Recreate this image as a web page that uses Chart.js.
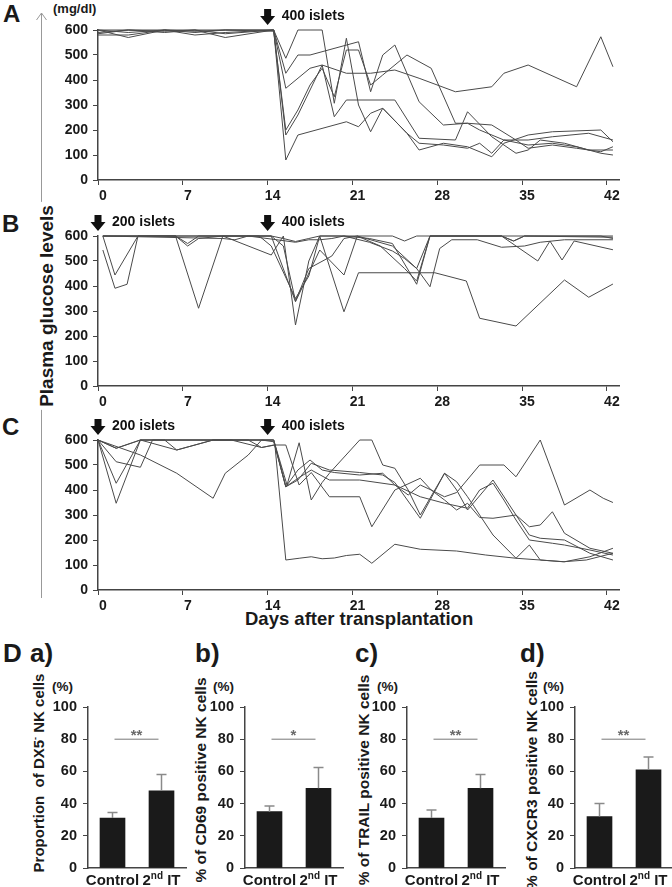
<!DOCTYPE html>
<html>
<head>
<meta charset="utf-8">
<script src="https://cdn.jsdelivr.net/npm/chart.js@4.4.0/dist/chart.umd.min.js"></script>
<style>
body{margin:0;background:#fff;width:672px;height:887px;position:relative;overflow:hidden;font-family:"Liberation Sans",Arial,sans-serif;font-weight:bold;color:#1a1a1a}
canvas{position:absolute}
.lbl{position:absolute;white-space:nowrap;line-height:1}
.rot{position:absolute;white-space:nowrap;line-height:1;transform:translate(-50%,-50%) rotate(-90deg)}
</style>
</head>
<body>
<!-- big glucose axis label with its arrow -->
<svg style="position:absolute;left:0;top:0" width="60" height="620">
  <line x1="41.5" y1="13" x2="41.5" y2="598" stroke="#999" stroke-width="1"/>
  <polyline points="36.5,20 41.5,13 46.5,20" fill="none" stroke="#999" stroke-width="1"/>
</svg>
<div class="rot" style="left:46px;top:306px;font-size:19px;background:#fff;padding:0 3px">Plasma glucose levels</div>
<div class="lbl" style="left:3px;top:2px;font-size:24px">A</div>
<div class="lbl" style="left:2px;top:212px;font-size:24px">B</div>
<div class="lbl" style="left:2px;top:415px;font-size:24px">C</div>
<div class="lbl" style="left:53px;top:2px;font-size:13px">(mg/dl)</div>
<div class="lbl" style="left:245px;top:610px;font-size:18.5px">Days after transplantation</div>

<div class="lbl" style="left:3px;top:640px;font-size:26px">D</div>
<div class="lbl" style="left:30px;top:640px;font-size:26px">a)</div>
<div class="lbl" style="left:195px;top:640px;font-size:26px">b)</div>
<div class="lbl" style="left:355px;top:640px;font-size:26px">c)</div>
<div class="lbl" style="left:520px;top:640px;font-size:26px">d)</div>
<div class="lbl" style="left:52px;top:680px;font-size:13.5px">(%)</div>
<div class="lbl" style="left:213px;top:680px;font-size:13.5px">(%)</div>
<div class="lbl" style="left:377px;top:680px;font-size:13.5px">(%)</div>
<div class="lbl" style="left:543px;top:680px;font-size:13.5px">(%)</div>
<div class="rot" style="left:38px;top:773px;font-size:15px">Proportion&nbsp; of DX5<sup style="font-size:9px">-</sup> NK cells</div>
<div class="rot" style="left:201px;top:780px;font-size:15.5px">% of CD69 positive NK cells</div>
<div class="rot" style="left:364px;top:780px;font-size:15.5px">% of TRAIL positive NK cells</div>
<div class="rot" style="left:532px;top:780px;font-size:15.5px">% of CXCR3 positive NK cells</div>

<canvas id="chartA" width="590" height="208" style="left:40px;top:0px"></canvas>
<canvas id="chartB" width="590" height="208" style="left:40px;top:206px"></canvas>
<canvas id="chartC" width="590" height="208" style="left:40px;top:410px"></canvas>
<canvas id="bar1" width="162" height="197" style="left:30px;top:690px"></canvas>
<canvas id="bar2" width="162" height="197" style="left:187px;top:690px"></canvas>
<canvas id="bar3" width="162" height="197" style="left:349px;top:690px"></canvas>
<canvas id="bar4" width="162" height="197" style="left:517px;top:690px"></canvas>

<script>
// axis ticks
const dayTicks = [0, 7, 14, 21, 28, 35, 42];
const glucoseTicks = [0, 100, 200, 300, 400, 500, 600];
const percentTicks = [0, 20, 40, 60, 80, 100];

// A - one transplant of 400 islets, [day, mg/dl]
const a1 = [[0,600],[2.5,570],[5.5,600],[8,590],[10.5,600],[14.5,600],[15.5,487],[16.5,600],[17.5,600],[18.5,600],[19.5,307],[20.5,567],[21.5,300],[22.5,193],[23.5,287],[25.5,187],[26.5,120],[28.5,147],[30.5,133],[32.5,93],[33.5,147],[35.5,180],[37.5,193],[41.5,200],[42.5,153]];
const a2 = [[0,580],[2.5,580],[5.5,600],[8,580],[10.5,590],[14.5,600],[15.5,427],[16.5,500],[17.5,500],[21.5,553],[22.5,353],[23.5,500],[24.5,540],[26.5,313],[28.5,220],[30.5,227],[32.5,220],[34.5,160],[35.5,127],[37.5,140],[39.5,127],[41.5,113],[42.5,133]];
const a3 = [[0,590],[2.5,600],[5.5,595],[8,600],[10.5,570],[14.5,600],[15.5,367],[17.5,447],[18.5,460],[20.5,427],[22.5,427],[24.5,440],[26.5,407],[29.5,353],[32.5,373],[33.5,427],[35.5,460],[39.5,373],[41.5,573],[42.5,453]];
const a4 = [[0,600],[2.5,590],[5.5,600],[8,595],[10.5,600],[14.5,595],[15.5,200],[16.5,280],[17.5,380],[18.5,447],[19.5,333],[20.5,520],[21.5,520],[22.5,380],[23.5,420],[25.5,500],[27.5,447],[29.5,227],[30.5,227],[31.5,200],[33.5,160],[35.5,160],[37.5,173],[40.5,187],[42.5,160]];
const a5 = [[0,585],[2.5,600],[5.5,590],[8,600],[10.5,585],[14.5,600],[15.5,180],[16.5,260],[18.5,460],[19.5,253],[20.5,320],[24.5,320],[26.5,167],[29.5,160],[30.5,273],[32.5,173],[34.5,107],[35.5,120],[36.5,160],[38.5,147],[40.5,120],[42.5,120]];
const a6 = [[0,600],[2.5,600],[5.5,600],[8,600],[10.5,600],[14.5,600],[15.5,80],[16.5,180],[20.5,233],[21.5,213],[22.5,267],[23.5,287],[25.5,187],[26.5,147],[28.5,140],[30.5,127],[31.5,147],[32.5,107],[33.5,160],[35.5,140],[37.5,147],[39.5,133],[41.5,107],[42.5,100]];

// B - 200 islets then 400 islets
const b1 = [[0.4,544],[1.4,391],[2.4,407],[3.3,600],[6.4,600],[7.4,570],[8.3,600],[14.3,600],[16.3,337],[18.3,544],[20.3,444],[21.4,600],[24.3,560],[26.3,470],[27.4,600],[42.5,600]];
const b2 = [[0.4,600],[1.4,444],[3.3,600],[6.4,600],[7.4,560],[8.3,590],[10.3,600],[14.3,524],[15.3,600],[16.3,244],[17.4,500],[18.3,600],[20.3,297],[21.5,453],[27.8,453],[30.4,420],[31.5,271],[34.5,240],[38.5,424],[40.5,355],[42.5,408]];
const b3 = [[0.4,600],[6.4,600],[8.3,311],[10.3,600],[13.3,600],[14.3,560],[16.3,350],[17.4,440],[18.3,600],[20.3,600],[22.4,590],[24.3,570],[26.3,407],[27.4,600],[33.3,600],[34.3,580],[35.2,600],[42.5,595]];
const b4 = [[0.4,600],[10.3,590],[11.3,585],[12.4,600],[16.3,575],[17.4,585],[18.3,585],[19.3,590],[20.3,600],[22.4,575],[24.3,540],[25.3,510],[26.3,470],[27.4,397],[28.2,550],[29.2,585],[31.3,585],[33.3,555],[35.2,560],[36.5,575],[38.5,585],[42.5,585]];
const b5 = [[0.4,600],[14.3,600],[15.3,560],[16.3,340],[17.4,470],[19.3,520],[20.3,590],[21.4,600],[23.3,560],[25.3,470],[26.3,420],[27.4,600],[33.3,600],[36.3,500],[37.3,580],[38.3,504],[39.3,580],[42.5,545]];
const b6 = [[0.4,600],[14.3,600],[15.3,590],[16.3,578],[17.4,590],[18.3,600],[24.3,600],[25.3,580],[26.3,600],[33.3,600],[34.3,580],[35.2,600],[41.5,600],[42.5,590]];

// C - 200 islets then 400 islets
const c1 = [[0,600],[1.5,567],[3.5,600],[5.5,600],[6.5,560],[9.5,600],[11,600],[13.5,570],[14.6,580],[15.5,120],[16.6,127],[17.6,133],[18.5,125],[19.5,128],[20.5,138],[21.6,143],[22.6,107],[24.5,183],[26.6,163],[29.6,156],[32,140],[34.5,127],[36.5,120],[38.4,113],[40.3,120],[42.5,147]];
const c2 = [[0,600],[1.5,427],[3.5,600],[9.5,600],[14.5,600],[15.5,413],[16.5,480],[17.5,520],[18.5,480],[19.5,470],[21.6,460],[23.5,467],[24.5,420],[25.6,380],[26.6,420],[27.5,400],[28.6,373],[29.6,390],[31.5,500],[33.5,500],[34.5,453],[36.5,600],[38.5,340],[40.6,400],[41.7,367],[42.5,350]];
const c3 = [[0,600],[1.5,347],[3.5,600],[6.5,600],[9.5,600],[14.5,600],[15.6,420],[16.6,589],[17.6,360],[18.5,430],[19.1,467],[21.6,600],[22.6,600],[23.5,500],[24.5,487],[25.6,400],[26.6,300],[28.6,467],[29.6,433],[30.5,373],[31.5,300],[32.6,220],[34.5,127],[35.6,180],[36.5,120],[38.5,113],[40.6,133],[42.5,167]];
const c4 = [[0,600],[1.5,513],[3.5,491],[4.5,600],[9.5,600],[14.5,600],[15.5,413],[16.5,440],[17.6,507],[19.1,480],[21.6,470],[23.5,460],[24.5,430],[26.6,287],[28.6,467],[29.6,400],[30.5,320],[32.6,440],[34.5,300],[35.6,220],[36.5,207],[38.5,200],[40.6,147],[42.5,120]];
const c5 = [[0,600],[1.5,567],[3.5,600],[6.5,560],[9.5,600],[12.4,600],[13.5,570],[14.5,580],[15.5,580],[16.6,420],[17.6,470],[19.1,373],[21.6,373],[22.6,253],[24.5,400],[26.6,447],[27.5,400],[28.6,360],[29.6,320],[30.5,347],[31.5,290],[32.6,287],[34.5,300],[35.6,253],[36.5,260],[37.5,313],[38.5,227],[40.6,167],[42.5,147]];
const c6 = [[0,600],[3.5,540],[6.5,467],[9.5,367],[10.5,467],[12.4,540],[13.5,600],[14.5,593],[15.5,413],[16.6,450],[17.6,480],[19.1,440],[21.6,440],[24.5,420],[26.6,373],[28.6,347],[30.5,327],[31.5,400],[32.6,427],[33.5,360],[34.5,280],[35.6,200],[37.5,187],[38.5,180],[40.6,160],[42.5,140]];

// islet transplant markers
const arrowDaysA = [14];
const arrowTextA = ['400 islets'];
const arrowDaysBC = [0, 14];
const arrowTextBC = ['200 islets', '400 islets'];

// D - NK cell bars
const barLabels = ['Control', '2nd IT'];
const dx5Mean = [31, 48];
const dx5Err = [3.5, 10];
const cd69Mean = [35, 49.5];
const cd69Err = [3.5, 13];
const trailMean = [31, 49.5];
const trailErr = [5, 8.5];
const cxcr3Mean = [32, 61];
const cxcr3Err = [8, 8];
const sigLevel = 80;
const sigA = '**';
const sigB = '*';
const sigC = '**';
const sigD = '**';

const axisColor = '#444';
const lineColor = '#4a4a4a';

//arrows above the line charts
function arrowPlugin(days, texts) {
    return {
        id: 'islets',
        afterDraw: function(chart) {
            var ctx = chart.ctx;
            var top = chart.chartArea.top;
            ctx.save();
            ctx.fillStyle = '#111';
            ctx.font = 'bold 14px "Liberation Sans", Arial';
            ctx.textBaseline = 'middle';
            days.forEach(function(d, i) {
                var cx = chart.scales.x.getPixelForValue(d);
                ctx.beginPath();
                ctx.moveTo(cx - 3.5, top - 21);
                ctx.lineTo(cx + 3.5, top - 21);
                ctx.lineTo(cx + 3.5, top - 14);
                ctx.lineTo(cx + 7.5, top - 14);
                ctx.lineTo(cx, top - 5);
                ctx.lineTo(cx - 7.5, top - 14);
                ctx.lineTo(cx - 3.5, top - 14);
                ctx.closePath();
                ctx.fill();
                ctx.fillText(texts[i], cx + 14, top - 14);
            });
            ctx.restore();
        }
    };
}

function glucoseChart(id, series, days, texts) {
    new Chart(document.getElementById(id), {
        type: 'line',
        data: {
            datasets: series.map(function(s) {
                return {
                    data: s.map(function(p) { return {x: p[0], y: p[1]}; }),
                    borderColor: lineColor,
                    borderWidth: 1,
                    pointRadius: 0,
                    tension: 0,
                    clip: 3
                };
            })
        },
        options: {
            responsive: false,
            animation: false,
            layout: {padding: {top: 30, right: 11}},
            plugins: {legend: {display: false}, tooltip: {enabled: false}},
            scales: {
                x: {
                    type: 'linear', min: 0, max: 43,
                    afterBuildTicks: function(s) { s.ticks = dayTicks.map(function(v) { return {value: v}; }); },
                    afterFit: function(s) { s.height = 28; },
                    grid: {drawOnChartArea: false, tickLength: 5, color: axisColor},
                    border: {color: axisColor, width: 1.5},
                    ticks: {font: {size: 14, weight: 'bold', family: '"Liberation Sans", Arial'}, color: '#1a1a1a', labelOffset: 5, padding: 3, maxRotation: 0}
                },
                y: {
                    min: 0, max: 600,
                    afterBuildTicks: function(s) { s.ticks = glucoseTicks.map(function(v) { return {value: v}; }); },
                    afterFit: function(s) { s.width = 58; },
                    grid: {drawOnChartArea: false, tickLength: 5, color: axisColor},
                    border: {color: axisColor, width: 1.5},
                    ticks: {font: {size: 14, weight: 'bold', family: '"Liberation Sans", Arial'}, color: '#1a1a1a', padding: 5}
                }
            }
        },
        plugins: [arrowPlugin(days, texts)]
    });
}

glucoseChart('chartA', [a1, a2, a3, a4, a5, a6], arrowDaysA, arrowTextA);
glucoseChart('chartB', [b1, b2, b3, b4, b5, b6], arrowDaysBC, arrowTextBC);
glucoseChart('chartC', [c1, c2, c3, c4, c5, c6], arrowDaysBC, arrowTextBC);

//error bars, significance and category labels
function barExtras(errs, sig) {
    return {
        id: 'barExtras',
        afterDatasetsDraw: function(chart) {
            var ctx = chart.ctx;
            var xs = chart.scales.x, ys = chart.scales.y;
            var means = chart.data.datasets[0].data;
            ctx.save();
            ctx.strokeStyle = '#8a8a8a';
            ctx.lineWidth = 1.5;
            means.forEach(function(m, i) {
                var x = xs.getPixelForValue(i);
                var y0 = ys.getPixelForValue(m);
                var y1 = ys.getPixelForValue(m + errs[i]);
                ctx.beginPath();
                ctx.moveTo(x, y0);
                ctx.lineTo(x, y1);
                ctx.moveTo(x - 5, y1);
                ctx.lineTo(x + 5, y1);
                ctx.stroke();
            });
            // significance bar
            var sy = ys.getPixelForValue(sigLevel);
            var sx0 = xs.getPixelForValue(0) + 2;
            var sx1 = xs.getPixelForValue(1) - 3;
            ctx.strokeStyle = '#777';
            ctx.lineWidth = 1;
            ctx.beginPath();
            ctx.moveTo(sx0, sy);
            ctx.lineTo(sx1, sy);
            ctx.stroke();
            ctx.fillStyle = '#6a6a6a';
            ctx.font = 'bold 15px "Liberation Sans", Arial';
            ctx.textAlign = 'center';
            ctx.textBaseline = 'alphabetic';
            ctx.fillText(sig, (sx0 + sx1) / 2, sy + 1);
            ctx.restore();
        },
        afterDraw: function(chart) {
            var ctx = chart.ctx;
            var xs = chart.scales.x;
            var base = chart.chartArea.bottom + 17;
            ctx.save();
            ctx.fillStyle = '#1a1a1a';
            ctx.textBaseline = 'alphabetic';
            ctx.textAlign = 'left';
            chart.data.labels.forEach(function(lab, i) {
                var x = xs.getPixelForValue(i);
                var m = lab.match(/^(\d)(st|nd|rd|th)(.*)$/);
                var parts = m ? [[m[1], 15, 0], [m[2], 10, -6], [m[3], 15, 0]] : [[lab, 15, 0]];
                var w = 0;
                parts.forEach(function(p) {
                    ctx.font = 'bold ' + p[1] + 'px "Liberation Sans", Arial';
                    w += ctx.measureText(p[0]).width;
                });
                var cx = x - w / 2;
                parts.forEach(function(p) {
                    ctx.font = 'bold ' + p[1] + 'px "Liberation Sans", Arial';
                    ctx.fillText(p[0], cx, base + p[2]);
                    cx += ctx.measureText(p[0]).width;
                });
            });
            ctx.restore();
        }
    };
}

function barChart(id, means, errs, sig) {
    new Chart(document.getElementById(id), {
        type: 'bar',
        data: {
            labels: barLabels,
            datasets: [{
                data: means,
                backgroundColor: '#1a1a1a',
                barThickness: 25
            }]
        },
        options: {
            responsive: false,
            animation: false,
            layout: {padding: {top: 17, right: 6}},
            plugins: {legend: {display: false}, tooltip: {enabled: false}},
            scales: {
                x: {
                    afterFit: function(s) { s.height = 19; },
                    grid: {display: false},
                    border: {color: axisColor, width: 1.5},
                    ticks: {display: false}
                },
                y: {
                    min: 0, max: 100,
                    afterBuildTicks: function(s) { s.ticks = percentTicks.map(function(v) { return {value: v}; }); },
                    afterFit: function(s) { s.width = 58; },
                    grid: {drawOnChartArea: false, tickLength: 5, color: axisColor},
                    border: {color: axisColor, width: 1.5},
                    ticks: {font: {size: 14.5, weight: 'bold', family: '"Liberation Sans", Arial'}, color: '#1a1a1a', padding: 6}
                }
            }
        },
        plugins: [barExtras(errs, sig)]
    });
}

barChart('bar1', dx5Mean, dx5Err, sigA);
barChart('bar2', cd69Mean, cd69Err, sigB);
barChart('bar3', trailMean, trailErr, sigC);
barChart('bar4', cxcr3Mean, cxcr3Err, sigD);
</script>
</body>
</html>
